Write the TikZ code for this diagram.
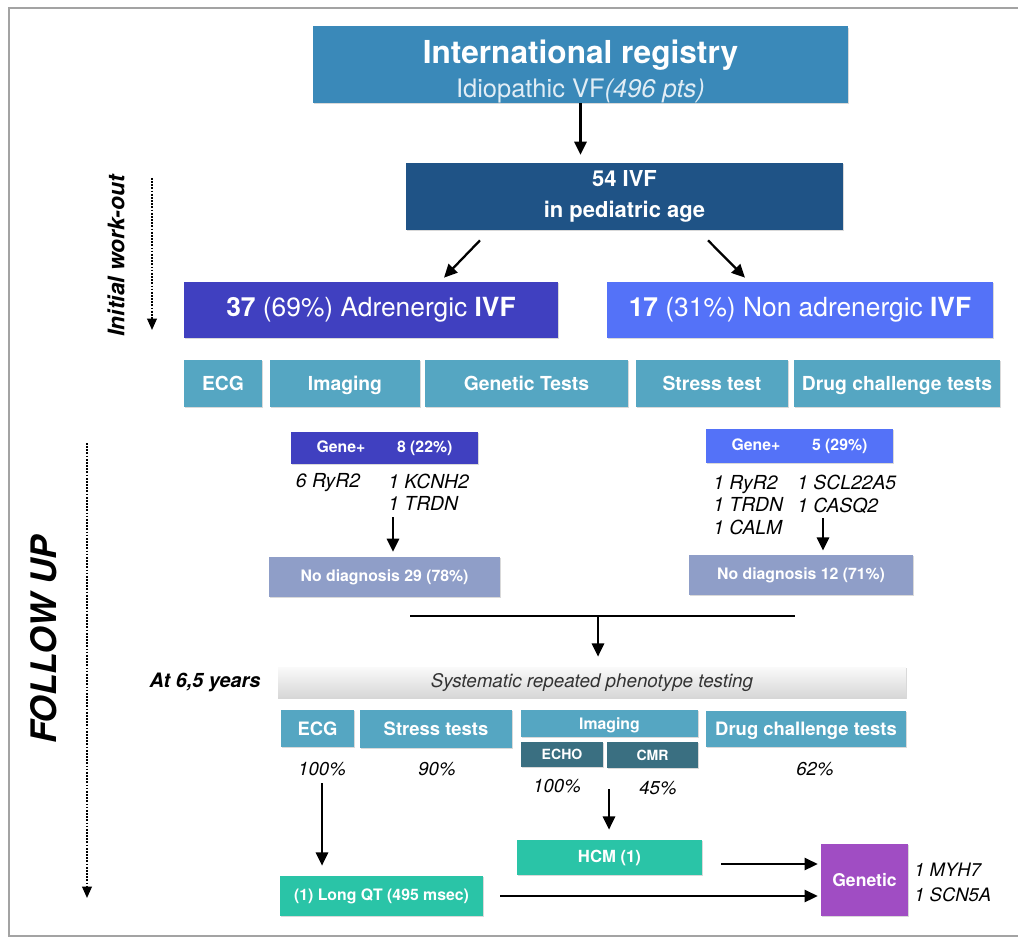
\documentclass[tikz,border=0pt]{standalone}
\usepackage{fontspec}
\setmainfont{TeX Gyre Heros}
\usetikzlibrary{arrows.meta, positioning, shadows, calc}

\definecolor{regblue}{HTML}{3A89B9}
\definecolor{ivfblue}{HTML}{1F5386}
\definecolor{adrblue}{HTML}{4040C0}
\definecolor{nonblue}{HTML}{5472F8}
\definecolor{testcyan}{HTML}{55A6C2}
\definecolor{subcyan}{HTML}{3A6F81}
\definecolor{nodiag}{HTML}{8F9EC8}
\definecolor{resgreen}{HTML}{2AC4A7}
\definecolor{genpurple}{HTML}{A04DC3}
\definecolor{framegray}{HTML}{A3A3A3}

\newcommand{\fsz}[2]{\fontsize{#1}{#2}\selectfont}

\begin{document}
\begin{tikzpicture}[x=0.02cm, y=-0.02cm,
		box/.style={fill=#1, text=white, font=\bfseries, inner sep=0pt, align=center,
			drop shadow={shadow xshift=0.8pt, shadow yshift=-0.8pt, opacity=0.3}},
		test/.style={box=testcyan, minimum height=0.94cm, text height=7.9pt, text depth=0pt, font=\fsz{11}{13}\bfseries},
		testb/.style={box=testcyan, text height=7.6pt, text depth=0pt, font=\fsz{10.5}{12}\bfseries},
		ndg/.style={box=nodiag, minimum height=0.8cm, font=\fsz{9}{11}\bfseries},
		gene/.style={font=\fsz{11}{12.5}\itshape, align=left, inner sep=0pt},
		pct/.style={font=\fsz{10.6}{12}\itshape, inner sep=1pt},
		arr/.style={line width=1.3pt, -{Triangle[length=7.5pt, width=7pt]}},
		walk/.style={line width=1.1pt, dash pattern=on 1pt off 0.8pt, -{Triangle[length=6.5pt, width=5.5pt]}}]
	\useasboundingbox (0,0) rectangle (1018,939);
	\draw[framegray, line width=1.7pt] (1018,8) -- (9,8) -- (9,936) -- (1018,936);
	
	\node[box=regblue, minimum width=10.7cm, minimum height=1.5cm, font=\fsz{14.5}{19.5}] (reg) at (580.5,64.5)
		{\rule{0pt}{21pt}{\fsz{18}{19.5}\bfseries International registry}\\{\mdseries\color{white!85!regblue}Idiopathic VF\textit{(496 pts)}}};
	\node[box=ivfblue, minimum width=8.74cm, minimum height=1.34cm, font=\fsz{12.5}{18}\bfseries] (ivf) at (624.5,196.5) {54 IVF\\in pediatric age};
	\draw[arr, shorten >=4.5pt] (reg.south) -- (reg.south |- ivf.north);
	
	\node[box=adrblue, minimum width=7.48cm, minimum height=1.12cm, font=\fsz{15}{18}\mdseries] (adr) at (371,310) {\textbf{37} (69\%) Adrenergic \textbf{IVF}};
	\node[box=nonblue, minimum width=7.72cm, minimum height=1.12cm, font=\fsz{15}{18}\mdseries] (non) at (800,310) {\textbf{17} (31\%) Non adrenergic \textbf{IVF}};
	\draw[arr] ([shift={(-144.5,10)}]ivf.south) -- ([shift={(73,-4)}]adr.north);
	\draw[arr] ([shift={(83.5,10)}]ivf.south) -- ([shift={(-55,-4)}]non.north);
	
	\node[rotate=90, font=\fsz{13}{15}\bfseries\itshape] (iwo) at (116,256) {Initial work-out};
	\coordinate (iwT) at (152,178);
	\coordinate (iwB) at (152,330);
	\draw[walk] (iwT) -- (iwB);
	
	\node[test, minimum width=1.56cm] (ecgA) at (223,383.5) {ECG};
	\node[test, minimum width=3.0cm] (imgA) at (345,383.5) {Imaging};
	\node[test, minimum width=4.06cm] (genA) at (526.5,383.5) {Genetic Tests};
	\node[test, minimum width=3.04cm] (strA) at (712,383.5) {Stress test};
	\node[test, minimum width=4.12cm] (drgA) at (897,383.5) {Drug challenge tests};
	
	\node[box=adrblue, minimum width=3.74cm, minimum height=0.64cm, font=\fsz{9}{11}\bfseries] (gpA) at (384.5,448) {Gene+\hspace{18pt}8 (22\%)};
	\node[box=nonblue, minimum width=3.74cm, minimum height=0.68cm, font=\fsz{9}{11}\bfseries] (gpB) at (799.5,446) {Gene+\hspace{18pt}5 (29\%)};
	
	\node[gene] (ryrA) at (328,483) {6 RyR2};
	\node[gene, anchor=west] (kcnA) at (388,492.5) {1 KCNH2\\1 TRDN};
	\node[gene, anchor=west, font=\fsz{11}{13}\itshape] (ryrB) at (713,505) {1 RyR2\\1 TRDN\\1 CALM};
	\node[gene, anchor=west, font=\fsz{11}{13}\itshape] (sclB) at (797,494) {1 SCL22A5\\1 CASQ2};
	
	\node[ndg, minimum width=4.62cm] (ndA) at (384.5,577) {No diagnosis 29 (78\%)};
	\node[ndg, minimum width=4.48cm] (ndB) at (801,575) {No diagnosis 12 (71\%)};
	\coordinate (tA) at (393,517);
	\coordinate (tB) at (823,518);
	\draw[arr, shorten >=2.8pt] (tA) -- (tA |- ndA.north);
	\draw[arr, shorten >=2.3pt] (tB) -- (tB |- ndB.north);
	
	\node[minimum width=12.56cm, minimum height=0.62cm, inner sep=0pt, top color=gray!4, bottom color=gray!32,
		drop shadow={shadow xshift=0.8pt, shadow yshift=-0.8pt, opacity=0.3},
		font=\fsz{10.7}{13}\itshape, text=black!80] (sys) at (592,682.5) {Systematic repeated phenotype testing};
	\node[font=\fsz{11.3}{13}\bfseries\itshape] (at) at (205,682) {At 6,5 years};
	\coordinate (mL) at (410,616);
	\coordinate (mR) at (795,616);
	\coordinate (mC) at (598,616);
	\draw[line width=1.3pt] (mL) -- (mR);
	\draw[arr, shorten >=5.7pt] (mC) -- (mC |- sys.north);
	
	\node[rotate=90, font=\fsz{20}{22}\bfseries\itshape] (fu) at (44,640) {FOLLOW UP};
	\coordinate (fuT) at (87,443);
	\coordinate (fuB) at (87,898);
	\draw[walk] (fuT) -- (fuB);
	
	\node[testb, minimum width=1.46cm, minimum height=0.74cm] (ecgB) at (317.5,728.5) {ECG};
	\node[testb, minimum width=3.04cm, minimum height=0.76cm] (strB) at (436,729) {Stress tests};
	\node[testb, minimum width=3.54cm, minimum height=0.54cm, text height=6.5pt, font=\fsz{9}{11}\bfseries] (imgB) at (609.5,723.5) {Imaging};
	\node[box=subcyan, minimum width=1.64cm, minimum height=0.5cm, font=\fsz{8}{10}\bfseries] (echo) at (562,754.5) {ECHO};
	\node[box=subcyan, minimum width=1.82cm, minimum height=0.52cm, font=\fsz{8}{10}\bfseries] (cmr) at (652.5,755) {CMR};
	\node[testb, minimum width=4.0cm, minimum height=0.72cm] (drgB) at (806,729) {Drug challenge tests};
	
	\node[pct] (pE) at (322,769) {100\%};
	\node[pct] (pS) at (437,769) {90\%};
	\node[pct] (pEc) at (557,786) {100\%};
	\node[pct] (pC) at (658,788) {45\%};
	\node[pct] (pD) at (815,769) {62\%};
	
	\node[box=resgreen, minimum width=3.7cm, minimum height=0.7cm, font=\fsz{9.5}{11}\bfseries] (hcm) at (609.5,857.5) {HCM (1)};
	\node[box=resgreen, minimum width=4.06cm, minimum height=0.8cm, font=\fsz{9}{11}\bfseries] (lqt) at (381.5,896) {(1) Long QT (495 msec)};
	\node[box=genpurple, minimum width=1.74cm, minimum height=1.44cm, font=\fsz{10}{12}\bfseries] (gen) at (864.5,880) {Genetic};
	\node[gene, anchor=west, font=\fsz{10.5}{14}\itshape] (mut) at (914,882.5) {1 MYH7\\1 SCN5A};
	
	\coordinate (tH) at (609,789);
	\draw[arr, shorten <=3pt, shorten >=5.7pt] (pE.south) -- (pE.south |- lqt.north);
	\draw[arr, shorten >=5.7pt] (tH) -- (tH |- hcm.north);
	\draw[arr, shorten <=10.8pt, shorten >=1.7pt] ([yshift=-3.7pt]hcm.east) -- ([yshift=-3.7pt]hcm.east -| gen.west);
	\draw[arr, shorten <=9.6pt, shorten >=1.7pt] (lqt.east) -- (lqt.east -| gen.west);
\end{tikzpicture}
\end{document}
